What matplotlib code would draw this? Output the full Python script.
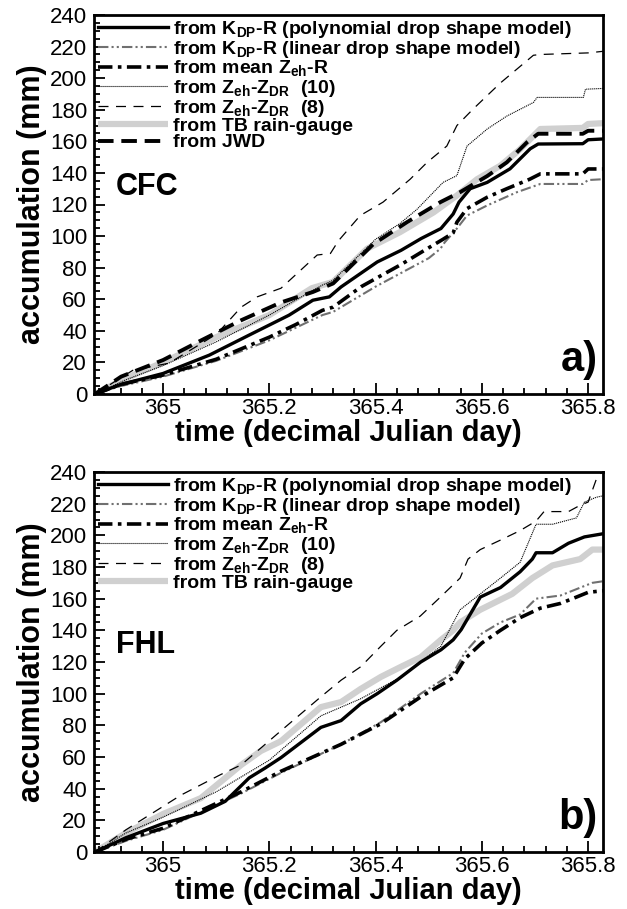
import matplotlib
matplotlib.use("Agg")
import matplotlib.pyplot as plt
from matplotlib import font_manager
from matplotlib.ticker import MultipleLocator

def pick(fams):
    for f in fams:
        try:
            font_manager.findfont(font_manager.FontProperties(family=f), fallback_to_default=False)
            return f
        except Exception:
            pass
    return "DejaVu Sans"

NARROW = pick(["Liberation Sans Narrow", "Liberation Sans"])
REG = pick(["Liberation Sans", "DejaVu Sans"])

# ---------------- data: panel a (CFC) ----------------
a_kdp_poly_x = [364.872, 364.92, 365.0, 365.087, 365.162, 365.237, 365.282, 365.313, 365.335, 365.403,
                365.448, 365.486, 365.523, 365.546, 365.557, 365.578, 365.610, 365.653, 365.691, 365.706,
                365.79, 365.80, 365.828]
a_kdp_poly_y = [0, 6, 13, 24.6, 37.3, 49.9, 59.4, 61.5, 67.8, 83.6,
                91, 98.5, 104.8, 114, 121.5, 130, 134, 142.6, 155.3, 158.3,
                158.5, 161, 161.5]

a_kdp_lin_x = [364.872, 364.92, 365.0, 365.1, 365.2, 365.25, 365.3, 365.32, 365.4, 365.45, 365.5,
               365.522, 365.53, 365.553, 365.572, 365.61, 365.666, 365.71, 365.79, 365.80, 365.828]
a_kdp_lin_y = [0, 5, 11, 21, 34, 42, 50, 52, 68, 77, 86,
               92, 96, 104.8, 113, 119.4, 127.8, 133, 133, 135.5, 136]

a_mean_x = [364.872, 364.92, 365.0, 365.1, 365.2, 365.25, 365.3, 365.32, 365.373, 365.448, 365.497,
            365.527, 365.546, 365.553, 365.572, 365.61, 365.647, 365.69, 365.71, 365.79, 365.80, 365.828]
a_mean_y = [0, 6, 12, 22, 36, 44, 53, 55, 68, 82, 92,
            98, 102, 108.8, 117.4, 124.6, 130, 136, 139.4, 139.4, 142.5, 142.5]

a_z10_x = [364.872, 364.93, 365.0, 365.1, 365.2, 365.3, 365.32, 365.4, 365.446, 365.478, 365.527,
           365.553, 365.572, 365.610, 365.647, 365.697, 365.704, 365.791, 365.795, 365.828]
a_z10_y = [0, 9, 18, 33, 50, 69, 72, 98, 108, 117, 134,
           138.3, 157, 167.8, 176, 184.6, 187.8, 187.8, 193, 193.5]

a_z8_x = [364.872, 364.943, 365.011, 365.072, 365.102, 365.147, 365.177, 365.222, 365.29, 365.315,
          365.33, 365.371, 365.414, 365.465, 365.497, 365.534, 365.553, 365.584, 365.635, 365.697,
          365.71, 365.80, 365.828]
a_z8_y = [0, 15, 19.5, 32, 38.3, 55, 61.5, 67, 88, 89,
          97, 113, 121.5, 136, 146.7, 157, 170, 180.6, 197, 214.5,
          215, 216, 217]

a_tb_x = [364.872, 364.93, 365.0, 365.1, 365.2, 365.28, 365.32, 365.384, 365.446, 365.509, 365.553,
          365.591, 365.635, 365.672, 365.71, 365.79, 365.80, 365.828]
a_tb_y = [0, 10, 20, 36, 50, 67, 71, 92, 102.5, 115, 125.7,
          136, 144.6, 155, 167.8, 168.5, 171, 171.5]

a_jwd_x = [364.872, 364.921, 365.0, 365.072, 365.147, 365.222, 365.282, 365.320, 365.396, 365.459,
           365.522, 365.559, 365.610, 365.647, 365.685, 365.706, 365.79, 365.80, 365.828]
a_jwd_y = [0, 11, 21.5, 34, 46.7, 58, 64.6, 70, 95, 108.8,
           121.5, 127.8, 138, 146.7, 159.4, 164.8, 164.8, 166.7, 166.7]

# ---------------- data: panel b (FHL) ----------------
b_kdp_poly_x = [364.872, 364.93, 365.0, 365.071, 365.117, 365.162, 365.192, 365.222, 365.297, 365.335,
                365.372, 365.403, 365.44, 365.485, 365.523, 365.546, 365.561, 365.597, 365.635, 365.672,
                365.695, 365.702, 365.733, 365.763, 365.793, 365.828]
b_kdp_poly_y = [0, 9, 18, 24.5, 32, 46.8, 53, 59.6, 78.7, 83,
                93.6, 100, 108.5, 120, 127.7, 134, 140.4, 161, 167, 177,
                185, 189, 189, 195, 199, 201]

b_kdp_lin_x = [364.872, 364.93, 365.0, 365.147, 365.222, 365.335, 365.41, 365.485, 365.546, 365.568,
               365.6, 365.635, 365.672, 365.702, 365.748, 365.778, 365.808, 365.828]
b_kdp_lin_y = [0, 7, 14, 37, 50, 68, 82, 100, 113, 126,
               138, 145, 150, 160, 162, 166, 170, 171]

b_mean_x = [364.872, 364.93, 365.0, 365.147, 365.222, 365.335, 365.41, 365.485, 365.546, 365.568,
            365.6, 365.635, 365.672, 365.71, 365.748, 365.778, 365.80, 365.828]
b_mean_y = [0, 8, 15, 38, 51, 68, 81, 98, 110, 122,
            132, 140, 148, 154, 157, 161, 164, 165]

b_z10_x = [364.872, 364.93, 365.0, 365.1, 365.2, 365.297, 365.372, 365.448, 365.523, 365.559,
           365.597, 365.635, 365.672, 365.702, 365.733, 365.778, 365.793, 365.815, 365.828]
b_z10_y = [0, 12, 22, 38, 58, 86, 96.8, 110.6, 130, 153,
           163, 173, 183, 207, 207, 211, 221, 224, 225]

b_z8_x = [364.872, 364.93, 365.034, 365.109, 365.147, 365.222, 365.297, 365.335, 365.372, 365.41,
          365.44, 365.484, 365.522, 365.559, 365.574, 365.597, 365.635, 365.672, 365.702, 365.717,
          365.763, 365.785, 365.80, 365.815, 365.828]
b_z8_y = [0, 14, 36, 49, 55, 76.6, 98, 108.5, 117, 130,
          140, 149, 161, 173, 185, 191, 197, 203, 209, 215,
          215, 219, 221, 235, 241]

b_tb_x = [364.872, 364.93, 365.0, 365.071, 365.147, 365.184, 365.222, 365.297, 365.335, 365.372,
          365.41, 365.448, 365.485, 365.523, 365.546, 365.559, 365.597, 365.657, 365.695, 365.733,
          365.785, 365.808, 365.828]
b_tb_y = [0, 12, 24, 34, 55, 63.8, 70, 91.5, 94.7, 103,
          110.6, 117, 123, 134, 140, 145, 153, 163, 173, 181,
          185, 191, 191]

labels = [
    r"from K$_\mathregular{DP}$-R (polynomial drop shape model)",
    r"from K$_\mathregular{DP}$-R (linear drop shape model)",
    r"from mean Z$_\mathregular{eh}$-R",
    r"from Z$_\mathregular{eh}$-Z$_\mathregular{DR}$  (10)",
    r"from Z$_\mathregular{eh}$-Z$_\mathregular{DR}$  (8)",
    "from TB rain-gauge",
    "from JWD",
]
station_names = ["CFC", "FHL"]
panel_tags = ["a)", "b)"]
xticks = [365, 365.2, 365.4, 365.6, 365.8]
xtick_labels = ["365", "365.2", "365.4", "365.6", "365.8"]
yticks = list(range(0, 241, 20))

W, H = 627, 909
fig = plt.figure(figsize=(W / 100, H / 100), dpi=100)

def ax_rect(l, t, r, b):
    return [l / W, 1 - b / H, (r - l) / W, (b - t) / H]

styles = {
    "poly": dict(color="black", lw=2.4, ls="-"),
    "lin": dict(color="#707070", lw=1.5, ls=(0, (5, 1.5, 1, 1.5, 1, 1.5))),
    "mean": dict(color="black", lw=2.6, ls=(0, (4, 1.5, 1, 1.5))),
    "z10": dict(color="black", lw=0.8, ls=(0, (1, 0.8))),
    "z8": dict(color="black", lw=0.9, ls=(0, (8, 6))),
    "tb": dict(color="#d0d0d0", lw=4.5, ls="-", solid_capstyle="butt"),
    "jwd": dict(color="black", lw=2.8, ls=(0, (4, 2))),
}

panels = [
    dict(rect=ax_rect(94, 15, 603, 394),
         series=[("poly", a_kdp_poly_x, a_kdp_poly_y), ("lin", a_kdp_lin_x, a_kdp_lin_y),
                 ("mean", a_mean_x, a_mean_y), ("z10", a_z10_x, a_z10_y), ("z8", a_z8_x, a_z8_y),
                 ("tb", a_tb_x, a_tb_y), ("jwd", a_jwd_x, a_jwd_y)]),
    dict(rect=ax_rect(94, 472, 603, 852),
         series=[("poly", b_kdp_poly_x, b_kdp_poly_y), ("lin", b_kdp_lin_x, b_kdp_lin_y),
                 ("mean", b_mean_x, b_mean_y), ("z10", b_z10_x, b_z10_y), ("z8", b_z8_x, b_z8_y),
                 ("tb", b_tb_x, b_tb_y)]),
]

zorders = {"tb": 1, "poly": 3, "lin": 2, "mean": 3, "z10": 2, "z8": 2, "jwd": 4}

for i, p in enumerate(panels):
    ax = fig.add_axes(p["rect"])
    handles = []
    for j, (key, xs, ys) in enumerate(p["series"]):
        ln, = ax.plot(xs, ys, label=labels[j], zorder=zorders[key], **styles[key])
        handles.append(ln)
    ax.set_xlim(364.870, 365.828)
    ax.set_ylim(0, 240)
    ax.set_xticks(xticks)
    ax.set_xticklabels(xtick_labels)
    ax.set_yticks(yticks)
    ax.xaxis.set_minor_locator(MultipleLocator(0.04))
    ax.yaxis.set_minor_locator(MultipleLocator(5))
    ax.tick_params(which="both", direction="in", top=False, right=False, width=1.3)
    ax.tick_params(which="major", length=8, labelsize=16)
    ax.tick_params(axis="x", which="major", pad=3)
    ax.tick_params(axis="y", which="major", pad=5)
    ax.tick_params(which="minor", length=4.5)
    for lab in ax.get_xticklabels() + ax.get_yticklabels():
        lab.set_family(REG)
    for s in ax.spines.values():
        s.set_linewidth(2.0)
    ax.set_xlabel("time (decimal Julian day)", fontsize=21, fontweight="bold",
                  family=NARROW, labelpad=0)
    ax.set_ylabel("accumulation (mm)", fontsize=22, fontweight="bold",
                  family=NARROW, labelpad=2)
    ax.legend(handles=handles, loc="upper left", frameon=False,
              prop=dict(family=NARROW, weight="bold", size=14),
              handlelength=3.6, handletextpad=0.25, labelspacing=-0.06,
              borderaxespad=0.1, borderpad=0.1)
    ax.text(364.911, 131, station_names[i], fontsize=22, fontweight="bold",
            family=NARROW, ha="left", va="center")
    ax.text(365.818, 21.5, panel_tags[i], fontsize=30, fontweight="bold",
            family=NARROW, ha="right", va="center")

fig.savefig("out.png", dpi=100)
